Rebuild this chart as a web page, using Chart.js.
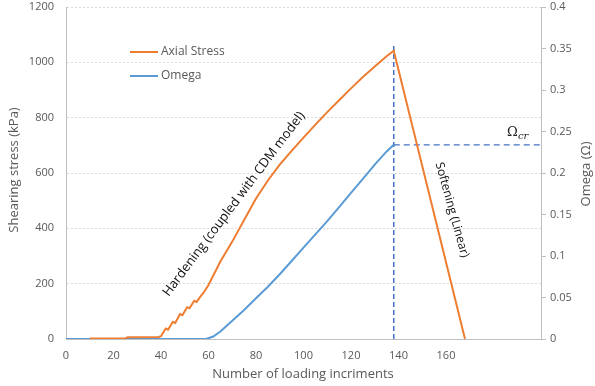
<!DOCTYPE html>
<html>
<head>
<meta charset="utf-8">
<script src="https://cdn.jsdelivr.net/npm/chart.js@4.4.0/dist/chart.umd.min.js"></script>
<style>
  html, body { margin: 0; padding: 0; background: #fff; }
  #caja { width: 595px; height: 386px; }
</style>
</head>
<body>
<div id="caja"><canvas id="grafica"></canvas></div>
<script>
/* ============ DATOS ============ */
const pasosEsfuerzo = [10, 25, 26, 39, 40, 42, 43, 45, 46, 48, 49, 51, 52, 54, 55, 57, 58, 60, 65, 70, 75, 80, 85, 90, 95, 100, 105, 110, 115, 120, 125, 130, 135, 138, 168];
const esfuerzoAxial = [2, 3, 6, 7, 10, 38, 34, 62, 58, 90, 86, 115, 111, 138, 134, 158, 168, 195, 280, 352, 430, 508, 573, 630, 680, 728, 775, 820, 863, 906, 947, 985, 1022, 1042, 0];

const pasosOmega = [0, 59, 62, 65, 70, 75, 80, 85, 90, 95, 100, 105, 110, 115, 120, 125, 130, 135, 138];
const omega = [0, 0, 0.003, 0.009, 0.022, 0.035, 0.049, 0.063, 0.078, 0.094, 0.11, 0.126, 0.142, 0.159, 0.176, 0.193, 0.21, 0.226, 0.234];

const pasoPico = 138;
const topePico = 1060;
const omegaCritico = 0.234;
const xMax = 200;

const naranja = "#ED7D31";
const azul = "#5B9BD5";
const azulOscuro = "#4472C4";
const gris = "#595959";

const puntos = (xs, ys) => xs.map((x, i) => ({ x: x, y: ys[i] }));

/* ============ TEXTOS EXTRA ============ */
const textosExtra = {
  id: "textosExtra",
  afterDraw(chart) {
    const ctx = chart.ctx;
    ctx.save();

    // títulos de ejes
    ctx.fillStyle = gris;
    ctx.font = "13px 'Open Sans'";
    ctx.textAlign = "center";
    ctx.textBaseline = "middle";
    ctx.fillText("Number of loading incriments", 303, 374);

    ctx.save();
    ctx.translate(14, 170);
    ctx.rotate(-Math.PI / 2);
    ctx.fillText("Shearing stress (kPa)", 0, 0);
    ctx.restore();

    ctx.save();
    ctx.translate(586, 174);
    ctx.rotate(-Math.PI / 2);
    ctx.fillText("Omega (\u03A9)", 0, 0);
    ctx.restore();

    // leyenda
    ctx.lineWidth = 2;
    ctx.strokeStyle = naranja;
    ctx.beginPath(); ctx.moveTo(130, 52); ctx.lineTo(158, 52); ctx.stroke();
    ctx.strokeStyle = azul;
    ctx.beginPath(); ctx.moveTo(130, 76); ctx.lineTo(158, 76); ctx.stroke();
    ctx.font = "12px 'Open Sans'";
    ctx.textAlign = "left";
    ctx.fillText("Axial Stress", 161, 52);
    ctx.fillText("Omega", 161, 76);

    // anotaciones
    ctx.fillStyle = "#111";
    ctx.font = "13px 'Open Sans'";
    ctx.textAlign = "center";
    ctx.save();
    ctx.translate(234, 204);
    ctx.rotate(-53 * Math.PI / 180);
    ctx.fillText("Hardening (coupled with CDM model)", 0, 0);
    ctx.restore();

    ctx.font = "12px 'Open Sans'";
    ctx.save();
    ctx.translate(452, 210);
    ctx.rotate(74.5 * Math.PI / 180);
    ctx.fillText("Softening (Linear)", 0, 0);
    ctx.restore();

    // Omega crítico
    ctx.fillStyle = "#222";
    ctx.textAlign = "left";
    ctx.font = "13px 'DejaVu Serif'";
    ctx.fillText("\u03A9", 507, 133);
    ctx.font = "italic 10px 'DejaVu Serif'";
    ctx.fillText("cr", 518, 136);

    ctx.restore();
  }
};

/* ============ GRÁFICA ============ */
new Chart(document.getElementById("grafica"), {
  type: "line",
  data: {
    datasets: [
      {
        label: "Axial Stress",
        data: puntos(pasosEsfuerzo, esfuerzoAxial),
        borderColor: naranja,
        borderWidth: 2,
        pointRadius: 0,
        yAxisID: "y"
      },
      {
        label: "Omega",
        data: puntos(pasosOmega, omega),
        borderColor: azul,
        borderWidth: 2,
        pointRadius: 0,
        yAxisID: "y1"
      },
      {
        label: "pico",
        data: [{ x: pasoPico, y: 0 }, { x: pasoPico, y: topePico }],
        borderColor: azulOscuro,
        borderWidth: 1.5,
        borderDash: [5, 3],
        pointRadius: 0,
        yAxisID: "y"
      },
      {
        label: "critico",
        data: [{ x: pasoPico, y: omegaCritico }, { x: xMax, y: omegaCritico }],
        borderColor: azulOscuro,
        borderWidth: 1.2,
        borderDash: [6, 4],
        pointRadius: 0,
        yAxisID: "y1"
      }
    ]
  },
  options: {
    responsive: true,
    maintainAspectRatio: false,
    animation: false,
    layout: { padding: 0 },
    plugins: { legend: { display: false }, tooltip: { enabled: false } },
    scales: {
      x: {
        type: "linear",
        min: 0,
        max: xMax,
        afterFit: s => { s.height = 47; s.paddingLeft = 0; s.paddingRight = 0; },
        ticks: {
          stepSize: 20,
          color: gris,
          font: { family: "'Open Sans'", size: 11 },
          padding: 10,
          maxRotation: 0,
          callback: v => (v <= 160 ? String(v) : "")
        },
        grid: { drawOnChartArea: false, drawTicks: false },
        border: { color: "#bfbfbf", width: 1 }
      },
      y: {
        position: "left",
        min: 0,
        max: 1200,
        afterFit: s => { s.width = 66; s.paddingTop = 7; s.paddingBottom = 0; },
        ticks: {
          stepSize: 200,
          color: gris,
          font: { family: "'Open Sans'", size: 11 },
          padding: 12,
          callback: v => String(v)
        },
        grid: { color: "#d9d9d9", drawTicks: false },
        border: { color: "#bfbfbf", width: 1, dash: [2, 2] }
      },
      y1: {
        position: "right",
        min: 0,
        max: 0.4,
        afterFit: s => { s.width = 54; s.paddingTop = 7; s.paddingBottom = 0; },
        ticks: {
          stepSize: 0.05,
          color: gris,
          font: { family: "'Open Sans'", size: 11 },
          padding: 4,
          callback: v => String(Math.round(v * 100) / 100)
        },
        grid: { drawOnChartArea: false, drawTicks: true, tickLength: 5, color: "#bfbfbf" },
        border: { color: "#bfbfbf", width: 1 }
      }
    }
  },
  plugins: [textosExtra]
});
</script>
</body>
</html>
